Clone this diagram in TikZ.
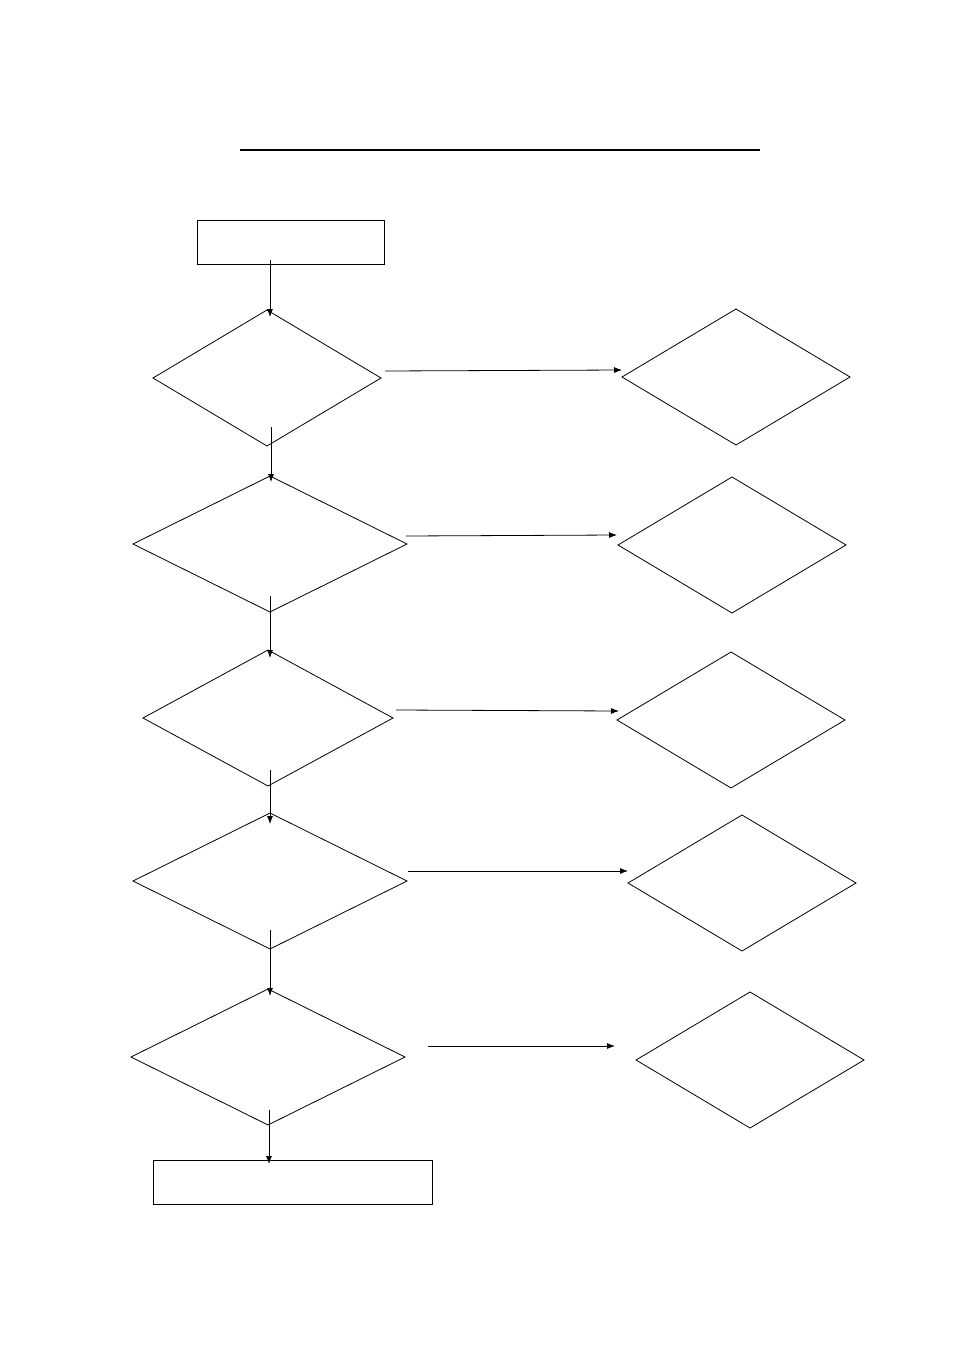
\documentclass[tikz,border=0pt]{standalone}
\begin{document}
\begin{tikzpicture}[x=1pt,y=-1pt,line width=0.8pt,
  arr/.style={-{Latex[length=7pt,width=5pt]}}]
\usetikzlibrary{arrows.meta}
\useasboundingbox (0,0) rectangle (954,1351);
\draw[line width=1.5pt] (240,150) -- (760,150);
\draw (197,220) rectangle (384,264);
\draw (153,1160) rectangle (432,1204);
% diamonds: center x, center y, half width, half height
\foreach \n/\cx/\cy/\w in {L1/267/378/114, L2/270/544/137, L3/268/718/125, L4/270/881/137, L5/268/1057/137,
  R1/736/377/114, R2/732/545/114, R3/731/720/114, R4/742/883/114, R5/750/1060/114}{
  \draw (\cx-\w,\cy) -- (\cx,\cy-68) -- (\cx+\w,\cy) -- (\cx,\cy+68) -- cycle;
}
\foreach \ax/\ay/\bx/\by in {385/371/622/370, 406/536/617/535, 396/710/619/711, 408/871/628/871, 428/1046/615/1046,
  270/260/270/317, 271/427/271/482, 270/596/270/658, 270/770/270/824, 270/930/270/996, 269/1110/269/1164}{
  \coordinate (a) at (\ax,\ay); \coordinate (b) at (\bx,\by);
  \draw[-{Latex[length=8pt,width=6pt]}] (a) -- (b);
}
\end{tikzpicture}
\end{document}
